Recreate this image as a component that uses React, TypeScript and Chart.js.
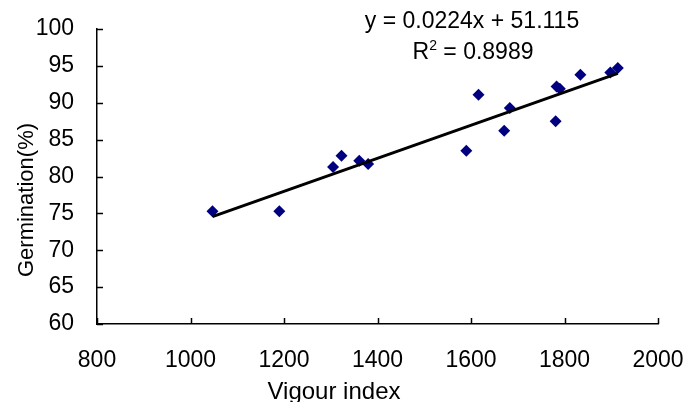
import React, { useEffect, useRef } from "react";
import { Chart, registerables } from "chart.js";

Chart.register(...registerables);

// ---- data ----
const vigourIndex = [1047, 1190, 1305, 1323, 1361, 1380, 1590, 1616, 1671, 1683, 1781, 1783, 1790, 1834, 1898, 1914];
const germination = [75.3, 75.3, 81.3, 82.8, 82.15, 81.7, 83.5, 91.1, 86.2, 89.3, 87.5, 92.2, 91.9, 93.8, 94.1, 94.7];
const trendSlope = 0.0224;
const trendIntercept = 51.115;
const equationLabel = "y = 0.0224x + 51.115";
const rSquaredLabel = "0.8989";
const xTickValues = [800, 1000, 1200, 1400, 1600, 1800, 2000];
const yTickValues = [60, 65, 70, 75, 80, 85, 90, 95, 100];
const xTitle = "Vigour index";
const yTitle = "Germination(%)";

const FONT = "'Liberation Sans', Arial, sans-serif";

const decorPlugin = {
  id: "decor",
  afterDraw(chart: any) {
    const { ctx, chartArea } = chart;
    const xs = chart.scales.x;
    const ys = chart.scales.y;
    ctx.save();
    ctx.strokeStyle = "#000";
    ctx.lineWidth = 1.5;
    // inward tick marks
    yTickValues.forEach((v) => {
      const py = Math.round(ys.getPixelForValue(v)) + 0.5;
      ctx.beginPath();
      ctx.moveTo(chartArea.left, py);
      ctx.lineTo(chartArea.left + 6, py);
      ctx.stroke();
    });
    xTickValues.forEach((v) => {
      const px = Math.round(xs.getPixelForValue(v)) + 0.5;
      ctx.beginPath();
      ctx.moveTo(px, chartArea.bottom);
      ctx.lineTo(px, chartArea.bottom - 6);
      ctx.stroke();
    });
    // axis titles
    ctx.fillStyle = "#000";
    ctx.textAlign = "center";
    ctx.textBaseline = "alphabetic";
    ctx.font = `24px ${FONT}`;
    ctx.fillText(xTitle, 334, 399);
    ctx.save();
    ctx.translate(33, 200);
    ctx.rotate(-Math.PI / 2);
    ctx.font = `22px ${FONT}`;
    ctx.fillText(yTitle, 0, 0);
    ctx.restore();
    // equation annotation
    ctx.font = `23px ${FONT}`;
    ctx.fillText(equationLabel, 472, 28);
    const rest = " = " + rSquaredLabel;
    const wR = ctx.measureText("R").width;
    ctx.font = `14px ${FONT}`;
    const w2 = ctx.measureText("2").width;
    ctx.font = `23px ${FONT}`;
    const wRest = ctx.measureText(rest).width;
    const total = wR + w2 + wRest;
    const sx = 473 - total / 2;
    ctx.textAlign = "left";
    ctx.fillText("R", sx, 59);
    ctx.font = `14px ${FONT}`;
    ctx.fillText("2", sx + wR, 50);
    ctx.font = `23px ${FONT}`;
    ctx.fillText(rest, sx + wR + w2, 59);
    ctx.restore();
  },
};

export default function App() {
  const canvasRef = useRef<HTMLCanvasElement | null>(null);

  useEffect(() => {
    document.body.style.margin = "0";
    const canvas = canvasRef.current;
    if (!canvas) return;
    const points = vigourIndex.map((x, i) => ({ x, y: germination[i] }));
    const minX = Math.min(...vigourIndex);
    const maxX = Math.max(...vigourIndex);
    const trend = [
      { x: minX, y: trendSlope * minX + trendIntercept },
      { x: maxX, y: trendSlope * maxX + trendIntercept },
    ];
    const chart = new Chart(canvas, {
      type: "scatter",
      data: {
        datasets: [
          {
            type: "line",
            data: trend,
            borderColor: "#000",
            borderWidth: 3,
            pointRadius: 0,
            fill: false,
            order: 0,
          } as any,
          {
            data: points,
            pointStyle: "rectRot",
            pointRadius: 6,
            pointBorderWidth: 0,
            backgroundColor: "#000080",
            borderColor: "#000080",
            order: 1,
          },
        ],
      },
      options: {
        animation: false,
        responsive: false,
        maintainAspectRatio: false,
        layout: { padding: { top: 29, right: 27, left: 0, bottom: 0 } },
        plugins: { legend: { display: false }, tooltip: { enabled: false } },
        scales: {
          x: {
            type: "linear",
            min: 800,
            max: 2000,
            afterFit: (s: any) => {
              s.height = 78;
              s.paddingLeft = 0;
              s.paddingRight = 0;
            },
            afterBuildTicks: (s: any) => {
              s.ticks = xTickValues.map((v) => ({ value: v }));
            },
            ticks: {
              color: "#000",
              padding: 23,
              font: { family: FONT, size: 23 },
              maxRotation: 0,
              callback: (v: any) => String(v),
            },
            grid: { display: true, drawOnChartArea: false, drawTicks: false },
            border: { display: true, color: "#000", width: 1.5 },
          },
          y: {
            type: "linear",
            min: 60,
            max: 100,
            afterFit: (s: any) => {
              s.width = 97;
              s.paddingTop = 0;
              s.paddingBottom = 0;
            },
            afterBuildTicks: (s: any) => {
              s.ticks = yTickValues.map((v) => ({ value: v }));
            },
            ticks: {
              color: "#000",
              padding: 23,
              font: { family: FONT, size: 23 },
              callback: (v: any) => String(v),
            },
            grid: { display: true, drawOnChartArea: false, drawTicks: false },
            border: { display: true, color: "#000", width: 1.5 },
          },
        },
      },
      plugins: [decorPlugin],
    });
    return () => chart.destroy();
  }, []);

  return (
    <div style={{ width: 685, height: 402, background: "#fff" }}>
      <canvas ref={canvasRef} width={685} height={402} style={{ display: "block" }} />
    </div>
  );
}
